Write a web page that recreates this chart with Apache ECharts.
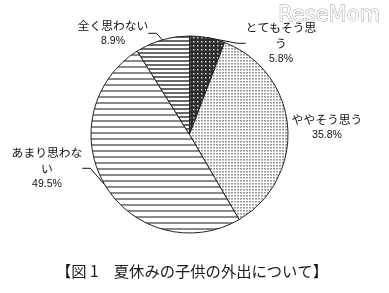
<!DOCTYPE html>
<html><head><meta charset="utf-8">
<script src="https://cdn.jsdelivr.net/npm/echarts@6/dist/echarts.min.js"></script>
<style>html,body{margin:0;padding:0;background:#fff}#c{width:389px;height:293px}</style>
</head><body><div id="c"></div>
<script>
const categories = ['とてもそう思う', 'ややそう思う', 'あまり思わない', '全く思わない'];
const values = [5.8, 35.8, 49.5, 8.9];
const chartTitle = '【図 1　夏休みの子供の外出について】';
const watermark = 'ReseMom';

function mkPattern(w, h, draw) {
  const c = document.createElement('canvas');
  c.width = w; c.height = h;
  const g = c.getContext('2d');
  draw(g);
  return { image: c, repeat: 'repeat' };
}
const patterns = [
  mkPattern(4, 4, g => { g.fillStyle = '#2c2c2c'; g.fillRect(0,0,4,4); g.fillStyle = '#6e6e6e'; g.fillRect(1,1,2,2); g.fillStyle = '#e8e8e8'; g.fillRect(1,1,1,1); }),
  mkPattern(3, 3, g => { g.fillStyle = '#fff'; g.fillRect(0,0,3,3); g.fillStyle = '#9a9a9a'; g.fillRect(0,0,2,1); g.fillStyle='#c8c8c8'; g.fillRect(0,1,2,1); }),
  mkPattern(6, 6, g => { g.fillStyle = '#fff'; g.fillRect(0,0,6,6); g.fillStyle = '#8a8a8a'; g.fillRect(0,0,6,2); }),
  mkPattern(4, 4, g => { g.fillStyle = '#fff'; g.fillRect(0,0,4,4); g.fillStyle = '#6a6a6a'; g.fillRect(0,0,4,2); })
];
const labelPos = [[281, 43], [327, 127], [47, 168], [113, 33]];
const noLine = [false, true, false, false];

function wrap(s) { return s.length > 6 ? s.slice(0, 6) + '\n' + s.slice(6) : s; }

const chart = echarts.init(document.getElementById('c'), null, {renderer: 'canvas'});
chart.setOption({
  animation: false,
  title: [
    { text: chartTitle, left: 51, top: 259, textStyle: { fontFamily: 'Noto Sans CJK JP', fontSize: 15.3, fontWeight: 'normal', color: '#1a1a1a' } },
    { text: watermark, right: 3, top: 0, textStyle: { fontFamily: 'DejaVu Sans', fontSize: 21, fontWeight: 'normal', color: '#fff', textBorderColor: '#a0a0a0', textBorderWidth: 1 } }
  ],
  series: [{
    type: 'pie',
    center: [189.5, 134.5],
    radius: 98.5,
    startAngle: 90,
    clockwise: true,
    itemStyle: { borderColor: '#222', borderWidth: 1 },
    label: {
      show: true,
      position: 'outside',
      align: 'center',
      overflow: 'none',
      formatter: p => '{n|' + wrap(p.name) + '}\n{p|' + p.value.toFixed(1) + '%}',
      rich: {
        n: { fontFamily: 'Noto Sans CJK JP', fontSize: 11.8, lineHeight: 16, color: '#111', align: 'center' },
        p: { fontFamily: 'Liberation Sans', fontSize: 10.5, lineHeight: 14, color: '#111', align: 'center' }
      }
    },
    labelLine: { show: true, length: 8, length2: 8, lineStyle: { color: '#111', width: 1 } },
    labelLayout: function (params) {
      const i = params.dataIndex;
      return { x: labelPos[i][0], y: labelPos[i][1], align: 'center', verticalAlign: 'middle' };
    },
    data: categories.map((c, i) => ({
      name: c, value: values[i],
      itemStyle: { color: patterns[i] },
      labelLine: { show: !noLine[i] }
    }))
  }]
});
</script></body></html>
